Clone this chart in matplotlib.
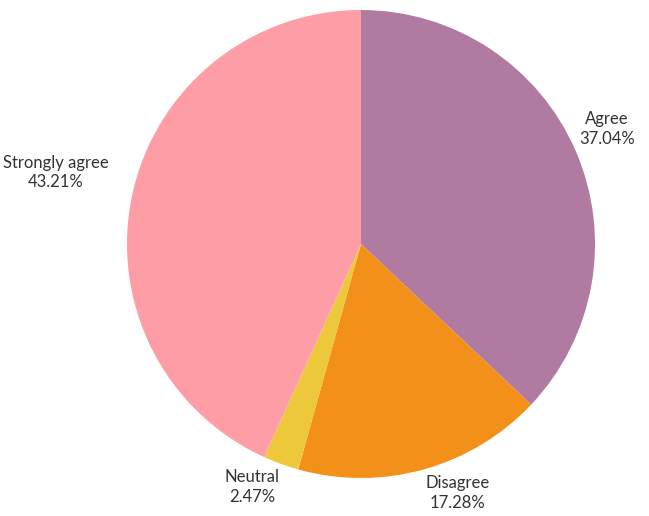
import numpy as np
import matplotlib.pyplot as plt

categories = ['Agree', 'Disagree', 'Neutral', 'Strongly agree']
shares = [37.04, 17.28, 2.47, 43.21]
colors = ['#B07AA1', '#F39019', '#ECC83A', '#FF9DA7']

W, H = 649, 516
cx, cy, R = 361, 516 - 244, 234

fig = plt.figure(figsize=(W / 100, H / 100), dpi=100)
ax = fig.add_axes([0, 0, 1, 1])

wedges, _ = ax.pie(shares, colors=colors, startangle=90, counterclock=False,
                   center=(cx, cy), radius=R, frame=True,
                   wedgeprops=dict(linewidth=0))
ax.set_xlim(0, W)
ax.set_ylim(0, H)
ax.set_aspect('equal')
ax.axis('off')

# label nudges (pixels) from the wedge's outer midpoint
nudge = [(3, 4), (2, -6), (-1, -5), (-24, 4)]
for w, cat, s, (dx, dy) in zip(wedges, categories, shares, nudge):
    ang = np.deg2rad((w.theta1 + w.theta2) / 2)
    x = cx + R * np.cos(ang)
    y = cy + R * np.sin(ang)
    ha = 'left' if np.cos(ang) > 0 else 'right'
    va = 'bottom' if np.sin(ang) > 0 else 'top'
    ax.annotate(f'{cat}\n{s:.2f}%', xy=(x, y), xytext=(dx, dy),
                textcoords='offset pixels', ha=ha, va=va, multialignment='center',
                fontsize=12, family='Lato', color='#333333', linespacing=1.3)

fig.savefig('out.png', dpi=100)
